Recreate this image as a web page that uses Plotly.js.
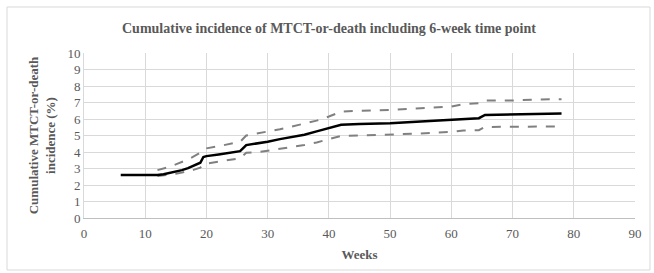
<!DOCTYPE html>
<html>
<head>
<meta charset="utf-8">
<script src="https://cdn.plot.ly/plotly-3.0.1.min.js"></script>
<style>html,body{margin:0;padding:0;background:#fff;}#chart{width:654px;height:273px;}</style>
</head>
<body>
<div id="chart"></div>
<script>
// Data
var weeksMain = [6, 12, 13, 14, 15, 16, 17, 18, 19, 19.5, 20, 22, 24, 25.5, 26.5, 28, 30, 32, 34, 36, 38, 40, 42, 45, 50, 55, 60, 62, 64.5, 65.5, 70, 74, 78];
var incidence = [2.6, 2.6, 2.65, 2.72, 2.8, 2.9, 3.02, 3.18, 3.35, 3.7, 3.75, 3.85, 3.95, 4.05, 4.42, 4.5, 4.62, 4.78, 4.9, 5.05, 5.25, 5.45, 5.65, 5.7, 5.75, 5.85, 5.95, 6.02, 6.05, 6.25, 6.27, 6.3, 6.33];
var weeksCI = [12, 13, 14, 15, 16, 17, 18, 19, 19.5, 20, 22, 24, 25.5, 26.5, 28, 30, 32, 34, 36, 38, 40, 42, 45, 50, 55, 60, 62, 64.5, 65.5, 70, 74, 78];
var upperCI = [2.9, 3.0, 3.1, 3.25, 3.4, 3.55, 3.75, 3.95, 4.15, 4.22, 4.35, 4.5, 4.62, 5.0, 5.1, 5.22, 5.38, 5.55, 5.72, 5.9, 6.15, 6.45, 6.5, 6.55, 6.65, 6.75, 6.9, 6.95, 7.12, 7.12, 7.18, 7.2];
var lowerCI = [2.55, 2.58, 2.62, 2.68, 2.75, 2.83, 2.93, 3.05, 3.25, 3.3, 3.4, 3.5, 3.62, 3.95, 3.98, 4.08, 4.18, 4.3, 4.42, 4.58, 4.78, 4.98, 5.0, 5.05, 5.12, 5.22, 5.3, 5.32, 5.52, 5.53, 5.55, 5.55];
var xTicks = [0, 10, 20, 30, 40, 50, 60, 70, 80, 90];
var yTicks = [0, 1, 2, 3, 4, 5, 6, 7, 8, 9, 10];

var font = 'Liberation Serif, Times New Roman, serif';
var grey = '#595959';
var traces = [
  {x: weeksCI, y: upperCI, mode: 'lines', line: {color: '#808080', width: 2, dash: 'dash'}, hoverinfo: 'skip'},
  {x: weeksCI, y: lowerCI, mode: 'lines', line: {color: '#808080', width: 2, dash: 'dash'}, hoverinfo: 'skip'},
  {x: weeksMain, y: incidence, mode: 'lines', line: {color: '#000000', width: 2.5}}
];
var layout = {
  width: 654, height: 273,
  margin: {l: 84, r: 19, t: 53, b: 55},
  paper_bgcolor: '#ffffff', plot_bgcolor: '#ffffff',
  showlegend: false,
  font: {family: font, color: grey, size: 13},
  title: {text: '<b>Cumulative incidence of MTCT-or-death including 6-week time point</b>',
          font: {family: font, size: 14, color: grey},
          x: 0.503, xref: 'container', y: 0.897, yref: 'container', yanchor: 'middle'},
  xaxis: {range: [0, 90], tickvals: xTicks, ticktext: xTicks.map(String), color: grey,
          showgrid: true, gridcolor: '#d9d9d9', gridwidth: 1, zeroline: false,
          showline: true, linecolor: '#bfbfbf', linewidth: 1, ticks: '', ticklabelstandoff: 3,
          tickfont: {family: font, size: 13, color: grey},
          title: {text: '<b>Weeks</b>', font: {family: font, size: 13, color: grey}, standoff: 10}},
  yaxis: {range: [0, 10], tickvals: yTicks, ticktext: yTicks.map(String), color: grey,
          showgrid: true, gridcolor: '#d9d9d9', gridwidth: 1, zeroline: false,
          showline: true, linecolor: '#d9d9d9', linewidth: 1, ticks: '',
          tickfont: {family: font, size: 13, color: grey},
          title: {text: '<b>Cumulative MTCT-or-death<br>incidence (%)</b>', font: {family: font, size: 13, color: grey}, standoff: 8}},
  shapes: [{type: 'rect', xref: 'paper', yref: 'paper',
            x0: (7 - 84) / 551, x1: (650 - 84) / 551, y0: (218 - 270) / 165, y1: (218 - 7) / 165,
            line: {color: '#d9d9d9', width: 1}, fillcolor: 'rgba(0,0,0,0)', layer: 'below'}]
};
Plotly.newPlot('chart', traces, layout, {displayModeBar: false, staticPlot: true});
</script>
</body>
</html>
